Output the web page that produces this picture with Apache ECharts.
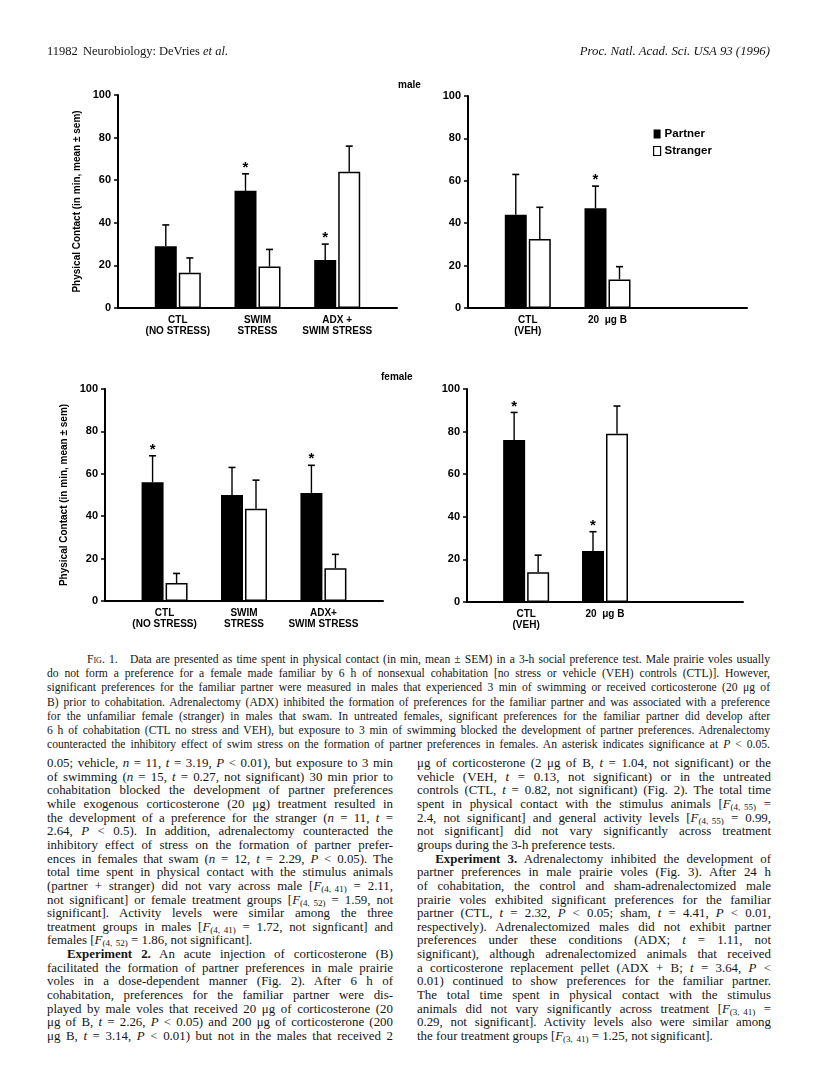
<!DOCTYPE html>
<html>
<head>
<meta charset="utf-8">
<script src="https://cdn.jsdelivr.net/npm/echarts@6/dist/echarts.min.js"></script>
<style>
  body { margin: 0; background: #fff; }
  #page { position: relative; width: 816px; height: 1082px; overflow: hidden;
          font-family: 'Liberation Serif', 'DejaVu Serif', serif; color: #151515; }
  #chart { position: absolute; left: 0; top: 0; width: 816px; height: 650px; }
  .ln { position: absolute; white-space: nowrap; }
  .cap { font-size: 11.6px; line-height: 14.2px; }
  .body { font-size: 12.9px; line-height: 13.65px; }
  sub { font-size: 70%; vertical-align: -2px; line-height: 0; }
</style>
</head>
<body>
<div id="page">
  <div id="chart"></div>
  <div class="ln" style="left:47px;top:44px;font-size:12.5px;">11982</div>
  <div class="ln" style="left:83px;top:44px;font-size:12.5px;">Neurobiology: DeVries <i>et al.</i></div>
  <div class="ln" style="right:46px;top:44px;font-size:12.8px;"><i>Proc. Natl. Acad. Sci. USA 93 (1996)</i></div>
</div>
<script>
// ---- data (minutes of physical contact, mean and sem) ----
const maleStressCats = ['CTL\n(NO STRESS)', 'SWIM\nSTRESS', 'ADX +\nSWIM STRESS'];
const maleStressPartner = [29, 55, 22.5];
const maleStressPartnerSem = [10, 8, 7.5];
const maleStressStranger = [16.5, 19.5, 64];
const maleStressStrangerSem = [7, 8, 12];
const maleStressSig = [false, true, true];

const maleVehCats = ['CTL\n(VEH)', '20  \u03bcg B'];
const maleVehPartner = [44, 47];
const maleVehPartnerSem = [19, 10.5];
const maleVehStranger = [32.5, 13.5];
const maleVehStrangerSem = [15, 6];
const maleVehSig = [false, true];

const femaleStressCats = ['CTL\n(NO STRESS)', 'SWIM\nSTRESS', 'ADX+\nSWIM STRESS'];
const femaleStressPartner = [56, 50, 51];
const femaleStressPartnerSem = [12.5, 13, 13];
const femaleStressStranger = [8.5, 43.5, 15.5];
const femaleStressStrangerSem = [4.5, 13.5, 6.5];
const femaleStressSig = [true, false, true];

const femaleVehCats = ['CTL\n(VEH)', '20  \u03bcg B'];
const femaleVehPartner = [76, 24];
const femaleVehPartnerSem = [13, 9];
const femaleVehStranger = [14, 79];
const femaleVehStrangerSem = [8, 13];
const femaleVehSig = [true, true];

const yMin = 0, yMax = 100, yStep = 20;
const yName = 'Physical Contact (in min, mean \u00b1 sem)';

// ---- page text ----
const captionLines = [
  '<span style="font-variant:small-caps">Fig.</span> 1.\u00a0\u00a0 Data are presented as time spent in physical contact (in min, mean \u00b1 SEM) in a 3-h social preference test. Male prairie voles usually',
  'do not form a preference for a female made familiar by 6 h of nonsexual cohabitation [no stress or vehicle (VEH) controls (CTL)]. However,',
  'significant preferences for the familiar partner were measured in males that experienced 3 min of swimming or received corticosterone (20 \u03bcg of',
  'B) prior to cohabitation. Adrenalectomy (ADX) inhibited the formation of preferences for the familiar partner and was associated with a preference',
  'for the unfamiliar female (stranger) in males that swam. In untreated females, significant preferences for the familiar partner did develop after',
  '6 h of cohabitation (CTL no stress and VEH), but exposure to 3 min of swimming blocked the development of partner preferences. Adrenalectomy',
  'counteracted the inhibitory effect of swim stress on the formation of partner preferences in females. An asterisk indicates significance at <i>P</i> &lt; 0.05.'
];
const leftLines = [
  '0.05; vehicle, <i>n</i> = 11, <i>t</i> = 3.19, <i>P</i> &lt; 0.01), but exposure to 3 min',
  'of swimming (<i>n</i> = 15, <i>t</i> = 0.27, not significant) 30 min prior to',
  'cohabitation blocked the development of partner preferences',
  'while exogenous corticosterone (20 \u03bcg) treatment resulted in',
  'the development of a preference for the stranger (<i>n</i> = 11, <i>t</i> =',
  '2.64, <i>P</i> &lt; 0.5). In addition, adrenalectomy counteracted the',
  'inhibitory effect of stress on the formation of partner prefer-',
  'ences in females that swam (<i>n</i> = 12, <i>t</i> = 2.29, <i>P</i> &lt; 0.05). The',
  'total time spent in physical contact with the stimulus animals',
  '(partner + stranger) did not vary across male [<i>F</i><sub>(4,\u2009\u200941)</sub> = 2.11,',
  'not significant] or female treatment groups [<i>F</i><sub>(4,\u2009\u200952)</sub> = 1.59, not',
  'significant]. Activity levels were similar among the three',
  'treatment groups in males [<i>F</i><sub>(4,\u2009\u200941)</sub> = 1.72, not signficant] and',
  '!females [<i>F</i><sub>(4,\u2009\u200952)</sub> = 1.86, not significant].',
  '>\u00a0<b>Experiment 2.</b> An acute injection of corticosterone (B)',
  'facilitated the formation of partner preferences in male prairie',
  'voles in a dose-dependent manner (Fig. 2). After 6 h of',
  'cohabitation, preferences for the familiar partner were dis-',
  'played by male voles that received 20 \u03bcg of corticosterone (20',
  '\u03bcg of B, <i>t</i> = 2.26, <i>P</i> &lt; 0.05) and 200 \u03bcg of corticosterone (200',
  '\u03bcg B, <i>t</i> = 3.14, <i>P</i> &lt; 0.01) but not in the males that received 2'
];
const rightLines = [
  '\u03bcg of corticosterone (2 \u03bcg of B, <i>t</i> = 1.04, not significant) or the',
  'vehicle (VEH, <i>t</i> = 0.13, not significant) or in the untreated',
  'controls (CTL, <i>t</i> = 0.82, not significant) (Fig. 2). The total time',
  'spent in physical contact with the stimulus animals [<i>F</i><sub>(4,\u2009\u200955)</sub> =',
  '2.4, not significant] and general activity levels [<i>F</i><sub>(4,\u2009\u200955)</sub> = 0.99,',
  'not significant] did not vary significantly across treatment',
  '!groups during the 3-h preference tests.',
  '>\u00a0<b>Experiment 3.</b> Adrenalectomy inhibited the development of',
  'partner preferences in male prairie voles (Fig. 3). After 24 h',
  'of cohabitation, the control and sham-adrenalectomized male',
  'prairie voles exhibited significant preferences for the familiar',
  'partner (CTL, <i>t</i> = 2.32, <i>P</i> &lt; 0.05; sham, <i>t</i> = 4.41, <i>P</i> &lt; 0.01,',
  'respectively). Adrenalectomized males did not exhibit partner',
  'preferences under these conditions (ADX; <i>t</i> = 1.11, not',
  'significant), although adrenalectomized animals that received',
  'a corticosterone replacement pellet (ADX + B; <i>t</i> = 3.64, <i>P</i> &lt;',
  '0.01) continued to show preferences for the familiar partner.',
  'The total time spent in physical contact with the stimulus',
  'animals did not vary significantly across treatment [<i>F</i><sub>(3,\u2009\u200941)</sub> =',
  '0.29, not significant]. Activity levels also were similar among',
  '!the four treatment groups [<i>F</i><sub>(3,\u2009\u200941)</sub> = 1.25, not significant].'
];

const page = document.getElementById('page');
function placeLines(lines, cls, left, width, top, step, firstIndent, paraIndent) {
  lines.forEach((src, i) => {
    let html = src, ragged = false, indent = (i === 0 ? firstIndent : 0);
    if (html[0] === '!') { ragged = true; html = html.slice(1); }
    if (html[0] === '>') { indent = paraIndent; html = html.slice(1); }
    const el = document.createElement('div');
    el.className = 'ln ' + cls;
    el.style.left = (left + indent) + 'px';
    el.style.top = (top + i * step) + 'px';
    el.innerHTML = html;
    page.appendChild(el);
    if (!ragged) {
      const w = el.getBoundingClientRect().width;
      const n = el.textContent.split(/[ \u00a0]/).length - 1;
      if (n > 0) el.style.wordSpacing = ((width - indent - w) / n) + 'px';
    }
  });
}
placeLines(captionLines, 'cap', 47, 723, 653, 14.2, 40, 0);
placeLines(leftLines, 'body', 47, 346, 757, 13.65, 0, 11);
placeLines(rightLines, 'body', 417, 354, 757, 13.65, 0, 11);

// ---- chart ----
const SLOTS = [1, 3, 5];
const N_SLOTS = 7;
const BAR_W = 22, BAR_GAP = 2;
const OFF = (BAR_W + BAR_GAP) / 2;
const FONT = '"Liberation Sans", Arial, sans-serif';

const panels = [
  { cats: maleStressCats, p: maleStressPartner, ps: maleStressPartnerSem, s: maleStressStranger, ss: maleStressStrangerSem, sig: maleStressSig, yName: true },
  { cats: maleVehCats, p: maleVehPartner, ps: maleVehPartnerSem, s: maleVehStranger, ss: maleVehStrangerSem, sig: maleVehSig, yName: false },
  { cats: femaleStressCats, p: femaleStressPartner, ps: femaleStressPartnerSem, s: femaleStressStranger, ss: femaleStressStrangerSem, sig: femaleStressSig, yName: true },
  { cats: femaleVehCats, p: femaleVehPartner, ps: femaleVehPartnerSem, s: femaleVehStranger, ss: femaleVehStrangerSem, sig: femaleVehSig, yName: false }
];
const gridBoxes = [
  { left: 118, top: 95, width: 279, height: 213 },
  { left: 468, top: 96, width: 279, height: 212 },
  { left: 105, top: 389, width: 278, height: 212 },
  { left: 467, top: 389, width: 276, height: 213 }
];

function pad(arr, empty) {
  const out = new Array(N_SLOTS).fill(empty);
  arr.forEach((v, i) => { out[SLOTS[i]] = v; });
  return out;
}

function renderErr(params, api) {
  const slot = api.value(0), mean = api.value(1), hi = api.value(2), off = api.value(3), sig = api.value(4);
  const base = api.coord([slot, mean]);
  const top = api.coord([slot, hi]);
  const x = base[0] + off;
  const children = [
    { type: 'line', shape: { x1: x, y1: base[1], x2: x, y2: top[1] }, style: { stroke: '#000', lineWidth: 1.4 } },
    { type: 'line', shape: { x1: x - 3.5, y1: top[1], x2: x + 3.5, y2: top[1] }, style: { stroke: '#000', lineWidth: 1.6 } }
  ];
  if (sig) {
    children.push({ type: 'text', x: x, y: top[1] - 6,
      style: { text: '*', font: 'bold 15px ' + FONT, fill: '#000', align: 'center', verticalAlign: 'middle' } });
  }
  return { type: 'group', children: children };
}

const option = {
  animation: false,
  textStyle: { fontFamily: FONT },
  grid: gridBoxes.map(g => Object.assign({ containLabel: false }, g)),
  xAxis: panels.map((pn, i) => ({
    type: 'category', gridIndex: i, data: pad(pn.cats, ''),
    axisLine: { lineStyle: { color: '#000', width: 2 } },
    axisTick: { show: false },
    axisLabel: { interval: 0, color: '#000', fontWeight: 'bold', fontSize: 10, lineHeight: 11.5, margin: 6 },
    splitLine: { show: false }
  })),
  yAxis: panels.map((pn, i) => ({
    type: 'value', gridIndex: i, min: yMin, max: yMax, interval: yStep,
    name: pn.yName ? yName : '', nameLocation: 'middle', nameRotate: 90, nameGap: 36,
    nameTextStyle: { color: '#000', fontWeight: 'bold', fontSize: 10 },
    axisLine: { show: true, lineStyle: { color: '#000', width: 2 } },
    axisTick: { show: true, length: 4, lineStyle: { color: '#000', width: 1.5 } },
    axisLabel: { color: '#000', fontWeight: 'bold', fontSize: 11, margin: 7 },
    splitLine: { show: false }
  })),
  legend: {
    orient: 'vertical', left: 648, top: 123, itemWidth: 7, itemHeight: 9, itemGap: 5,
    textStyle: { color: '#000', fontWeight: 'bold', fontSize: 11.5, padding: [0, 0, 0, -1] },
    data: [
      { name: 'Partner', icon: 'rect', itemStyle: { color: '#000' } },
      { name: 'Stranger', icon: 'rect', itemStyle: { color: '#fff', borderColor: '#000', borderWidth: 1.2 } }
    ]
  },
  graphic: [
    { type: 'text', left: 398, top: 80, style: { text: 'male', font: 'bold 10px ' + FONT, fill: '#000' } },
    { type: 'text', left: 381, top: 372, style: { text: 'female', font: 'bold 10px ' + FONT, fill: '#000' } }
  ],
  series: []
};

panels.forEach((pn, i) => {
  option.series.push({
    name: 'Partner', type: 'bar', xAxisIndex: i, yAxisIndex: i,
    data: pad(pn.p, '-'), barWidth: BAR_W, barGap: (BAR_GAP / BAR_W * 100) + '%',
    itemStyle: { color: '#000' }
  });
  option.series.push({
    name: 'Stranger', type: 'bar', xAxisIndex: i, yAxisIndex: i,
    data: pad(pn.s, '-'), barWidth: BAR_W,
    itemStyle: { color: '#fff', borderColor: '#000', borderWidth: 1.5 }
  });
  const errData = [];
  pn.p.forEach((v, k) => errData.push([SLOTS[k], v, v + pn.ps[k], -OFF, pn.sig[k] ? 1 : 0]));
  pn.s.forEach((v, k) => errData.push([SLOTS[k], v, v + pn.ss[k], OFF, 0]));
  option.series.push({
    type: 'custom', xAxisIndex: i, yAxisIndex: i, silent: true, z: 5,
    renderItem: renderErr, data: errData
  });
});

const chart = echarts.init(document.getElementById('chart'));
chart.setOption(option);
</script>
</body>
</html>
